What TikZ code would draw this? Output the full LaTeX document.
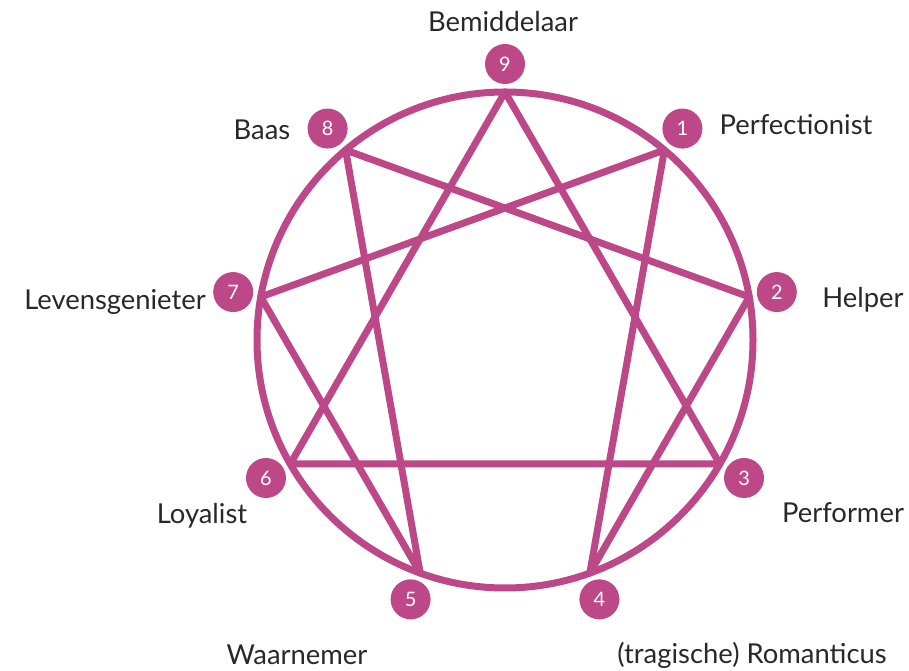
\documentclass[tikz,border=0pt]{standalone}
\usepackage{fontspec}
\setmainfont{Lato}
\usepackage{tikz}
\usetikzlibrary{calc}
\definecolor{EnneaPink}{RGB}{189, 72, 135}
\definecolor{LabelGray}{RGB}{40, 40, 40}

\begin{document}
\begin{tikzpicture}[
    x=1bp, y=1bp,
    ennealine/.style={draw=EnneaPink, line width=7bp, line join=round},
    badge/.style={circle, fill=EnneaPink, text=white, minimum size=40bp,
      inner sep=0pt, font=\fontsize{20}{20}\selectfont},
    typelabel/.style={text=LabelGray, inner sep=0pt, font=\fontsize{27.5}{30}\selectfont}
  ]
  \useasboundingbox (0,0) rectangle (909,671);
  \coordinate (c) at (505,331);
  % punten op de cirkel en de nummers erbuiten
  \foreach \n/\a in {9/90, 1/50, 2/10, 3/-30, 4/-70, 5/-110, 6/-150, 7/170, 8/130} {
    \coordinate (p\n) at ($(c)+(\a:248)$);
    \node[badge] (b\n) at ($(c)+(\a:276)$) {\n};
  }
  \draw[ennealine] (c) circle (248);
  % driehoek en hexade
  \draw[ennealine] (p9) -- (p3) -- (p6) -- cycle;
  \draw[ennealine] (p1) -- (p4) -- (p2) -- (p8) -- (p5) -- (p7) -- cycle;
  % namen
  \node[typelabel] (l9) at (503,649) {Bemiddelaar};
  \node[typelabel] (l1) at (796,546) {Perfectionist};
  \node[typelabel] (l2) at (863,371) {Helper};
  \node[typelabel] (l3) at (843,158) {Performer};
  \node[typelabel] (l4) at (752,16) {(tragische) Romanticus};
  \node[typelabel] (l5) at (297,16) {Waarnemer};
  \node[typelabel] (l6) at (202,155) {Loyalist};
  \node[typelabel] (l7) at (115,369) {Levensgenieter};
  \node[typelabel] (l8) at (262,541) {Baas};
\end{tikzpicture}
\end{document}
